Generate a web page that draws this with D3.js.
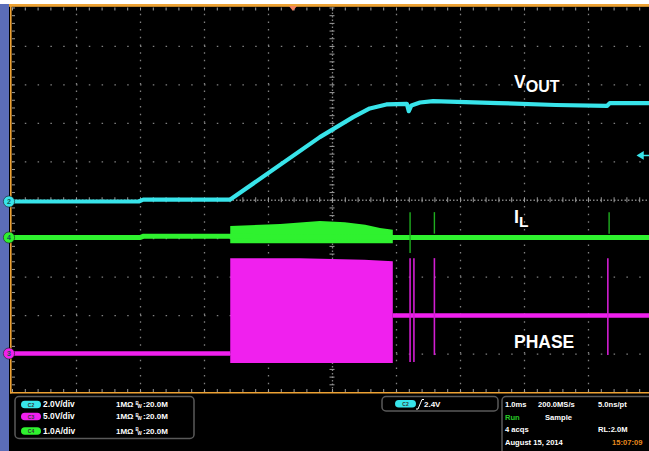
<!DOCTYPE html>
<html>
<head>
<meta charset="utf-8">
<script src="https://cdn.jsdelivr.net/npm/d3@7"></script>
<style>
body { margin: 0; background: #fff; overflow: hidden; }
text { font-family: "Liberation Sans", Arial, sans-serif; }
</style>
</head>
<body>
<div id="scope"></div>
<script>
// time in ms (1.0ms/div, 10 div across), values in volts / amps
var vout = [[0,0],[1.98,0],[2.05,0.1],[3.41,0.1],[4.81,3.35],[5.33,4.39],[5.59,4.84],[5.85,5.05],
            [6.17,5.08],[6.2,4.7],[6.24,5.0],[6.375,5.15],[6.58,5.22],[7.6,5.12],[8.5,5.02],
            [9.3,4.98],[9.34,5.12],[10,5.12]];
var ilBase = [[0,0],[2.0,0],[2.05,0.03],[3.41,0.03],[5.95,0.0],[10,0]];
// switching band: [t, top, bottom]
var ilBand = [[3.41,0.3,-0.15],[4.19,0.35,-0.15],[4.81,0.43,-0.15],[5.2,0.4,-0.15],
              [5.52,0.33,-0.15],[5.75,0.25,-0.15],[5.95,0.2,-0.15]];
var ilSpikes = [[6.22,0.66,-0.4],[6.6,0.66,0.1],[9.33,0.66,0.1]];
var phaseLow = [[0,0],[3.41,0]];
var phaseHigh = [[5.95,4.95],[10,4.95]];
var phaseBlock = [[3.41,12.4,-1.25],[4.5,12.4,-1.25],[5.5,12.2,-1.25],[5.95,12.0,-1.25]];
var phaseSpikes = [[6.22,12.4,-1.1],[6.28,12.4,-1.1],[6.6,12.4,-0.2],[9.31,12.4,-0.2]];

// channel settings: offset in divisions from the bottom, units per division
var channels = [
  {name:"C2", color:"#38e4ea", num:"2", offset:4.954, perDiv:2.0, scale:"2.0V/div"},
  {name:"C3", color:"#f020ee", num:"3", offset:1.001, perDiv:5.0, scale:"5.0V/div"},
  {name:"C4", color:"#2ff22f", num:"4", offset:4.018, perDiv:1.0, scale:"1.0A/div"}
];
var statusRight = [["1.0ms","200.0MS/s","5.0ns/pt"],["Run","Sample",""],["4 acqs","","RL:2.0M"],["August 15, 2014","","15:07:09"]];

var W = 649, H = 451;
var gLeft = 12, gRight = 652, gTop = 7.5, gBottom = 392;
var orange = "#eda234";

var svg = d3.select("#scope").append("svg").attr("width", W).attr("height", H);

svg.append("rect").attr("x", 0).attr("y", 4).attr("width", W).attr("height", H).attr("fill", "#000");
svg.append("rect").attr("x", 0).attr("y", 4).attr("width", 9).attr("height", H).attr("fill", "#5b6db8");

var x = d3.scaleLinear().domain([0, 10]).range([gLeft, gRight]);
var yDiv = d3.scaleLinear().domain([0, 10]).range([gBottom, gTop]);
channels.forEach(function(c){
  c.y = d3.scaleLinear().domain([-c.offset * c.perDiv, (10 - c.offset) * c.perDiv]).range([gBottom, gTop]);
});
var cy = channels[0].y, my = channels[1].y, gy = channels[2].y;

// grid: dots at minor divisions along every major line
var grid = svg.append("g");
var vGrid = grid.append("g").attr("transform", "translate(0," + gBottom + ")")
  .call(d3.axisBottom(x).tickValues(d3.range(1, 10)).tickSize(-(gBottom - gTop)).tickFormat(""));
vGrid.select(".domain").remove();
vGrid.selectAll("line").attr("stroke", "#808080").attr("stroke-width", 1.3)
  .attr("stroke-dasharray", d => d === 5 ? "1.5,2" : "1.5,6.19");
var hGrid = grid.append("g").attr("transform", "translate(" + gLeft + ",0)")
  .call(d3.axisLeft(yDiv).tickValues(d3.range(1, 10)).tickSize(-(gRight - gLeft)).tickFormat(""));
hGrid.select(".domain").remove();
hGrid.selectAll("line").attr("stroke", "#808080").attr("stroke-width", 1.3)
  .attr("stroke-dasharray", d => d === 5 ? "1.5,2" : "1.5,11.3");

// minor ticks on centre lines and edges
function minorTicks(axis, tr, size){
  var g = grid.append("g").attr("transform", tr)
    .call(axis.tickSize(size).tickFormat(""));
  g.select(".domain").remove();
  g.selectAll("line").attr("stroke", "#9a9a9a").attr("stroke-width", 1);
  return g;
}
var xMinor = d3.range(0, 10.001, 0.2), yMinor = d3.range(0, 10.001, 0.2);
minorTicks(d3.axisBottom(x).tickValues(xMinor), "translate(0," + (yDiv(5) - 2.5) + ")", 5);
minorTicks(d3.axisRight(yDiv).tickValues(yMinor), "translate(" + (x(5) - 2.5) + ",0)", 5);
minorTicks(d3.axisBottom(x).tickValues(xMinor), "translate(0," + gTop + ")", 3);
minorTicks(d3.axisRight(yDiv).tickValues(yMinor), "translate(" + gLeft + ",0)", 3);
minorTicks(d3.axisTop(x).tickValues(xMinor), "translate(0," + gBottom + ")", 3);

// frame
svg.append("rect").attr("x", 9).attr("y", 4).attr("width", W).attr("height", 2.8).attr("fill", orange);
svg.append("line").attr("x1", 10.8).attr("x2", 10.8).attr("y1", 4).attr("y2", 393.5)
  .attr("stroke", orange).attr("stroke-width", 1.6);
svg.append("line").attr("x1", 10).attr("x2", W).attr("y1", 392.8).attr("y2", 392.8)
  .attr("stroke", orange).attr("stroke-width", 1.6);
// trigger position marker
svg.append("path").attr("d", "M" + (x(4.39) - 4) + ",6 L" + (x(4.39) + 4) + ",6 L" + x(4.39) + ",11 Z")
  .attr("fill", "#f2825e");

// traces
var traces = svg.append("g");
function line(ys){ return d3.line().x(d => x(d[0])).y(d => ys(d[1])); }
function band(ys){ return d3.area().x(d => x(d[0])).y0(d => ys(d[2])).y1(d => ys(d[1])); }

// PHASE (C3)
traces.append("path").datum(phaseBlock).attr("d", band(my)).attr("fill", channels[1].color);
[phaseLow, phaseHigh].forEach(function(seg){
  traces.append("path").datum(seg).attr("d", line(my)).attr("fill", "none")
    .attr("stroke", channels[1].color).attr("stroke-width", 4.5);
});
traces.selectAll(".pspike").data(phaseSpikes).enter().append("line")
  .attr("x1", d => x(d[0])).attr("x2", d => x(d[0]))
  .attr("y1", d => my(d[1])).attr("y2", d => my(d[2]))
  .attr("stroke", "#d21ed2").attr("stroke-width", 1.6);

// IL (C4)
traces.append("path").datum(ilBand).attr("d", band(gy)).attr("fill", channels[2].color);
traces.append("path").datum(ilBase).attr("d", line(gy)).attr("fill", "none")
  .attr("stroke", channels[2].color).attr("stroke-width", 5);
traces.selectAll(".gspike").data(ilSpikes).enter().append("line")
  .attr("x1", d => x(d[0])).attr("x2", d => x(d[0]))
  .attr("y1", d => gy(d[1])).attr("y2", d => gy(d[2]))
  .attr("stroke", "#1fae1f").attr("stroke-width", 1.4);

// VOUT (C2)
traces.append("path").datum(vout).attr("d", line(cy)).attr("fill", "none")
  .attr("stroke", channels[0].color).attr("stroke-width", 4.2).attr("stroke-linejoin", "round");

// trigger level arrow at right edge
var tl = cy(2.4);
svg.append("path").attr("d", "M638," + tl + " l5,-3 l0,6 Z M642," + tl + " L649," + tl)
  .attr("fill", channels[0].color).attr("stroke", channels[0].color).attr("stroke-width", 1.5);

// channel ground markers
var markers = svg.append("g").selectAll("g").data(channels).enter().append("g")
  .attr("transform", d => "translate(9," + d.y(0) + ")");
markers.append("circle").attr("r", 5.6).attr("fill", d => d.color).attr("stroke", "#1a1a1a").attr("stroke-width", 0.6);
markers.append("text").attr("text-anchor", "middle").attr("dy", "0.35em")
  .attr("font-size", 7).attr("font-weight", "bold").attr("fill", "#155").text(d => d.num);

// labels
var lab = svg.append("g").attr("fill", "#fff").attr("font-weight", "bold");
var v = lab.append("text").attr("x", 514).attr("y", 88);
v.append("tspan").attr("font-size", 17.5).text("V");
v.append("tspan").attr("font-size", 16).attr("dy", 4).text("OUT");
var il = lab.append("text").attr("x", 514).attr("y", 223);
il.append("tspan").attr("font-size", 18).text("I");
il.append("tspan").attr("font-size", 15.5).attr("dy", 4).text("L");
lab.append("text").attr("x", 514).attr("y", 348).attr("font-size", 17.5).text("PHASE");

// status bar
var st = svg.append("g").attr("font-size", 7.6).attr("font-weight", "bold").attr("fill", "#fff");
st.append("rect").attr("x", 15).attr("y", 396.5).attr("width", 179).attr("height", 42).attr("rx", 4)
  .attr("fill", "none").attr("stroke", "#5a5a5a").attr("stroke-width", 1.5);
st.append("rect").attr("x", 382).attr("y", 396.5).attr("width", 116).attr("height", 14.5).attr("rx", 4)
  .attr("fill", "none").attr("stroke", "#5a5a5a").attr("stroke-width", 1.5);
st.append("rect").attr("x", 502).attr("y", 396.5).attr("width", 160).attr("height", 60).attr("rx", 4)
  .attr("fill", "none").attr("stroke", "#5a5a5a").attr("stroke-width", 1.5);

var rowsY = [404.5, 416.5, 431];
channels.forEach(function(c, i){
  var r = st.append("g").attr("transform", "translate(0," + rowsY[i] + ")");
  r.append("rect").attr("x", 21).attr("y", -3.8).attr("width", 20).attr("height", 7.6).attr("rx", 3.8).attr("fill", c.color);
  r.append("text").attr("x", 31).attr("y", 2.2).attr("text-anchor", "middle").attr("font-size", 5)
    .attr("fill", "#333").text(c.name);
  r.append("text").attr("x", 43).attr("y", 2.7).attr("font-size", 8.4).text(c.scale);
  r.append("text").attr("x", 116).attr("y", 2.7).attr("font-size", 8).text("1MΩ");
  r.append("text").attr("x", 135.5).attr("y", 0).attr("font-size", 4.5).text("B");
  r.append("text").attr("x", 137.5).attr("y", 3.5).attr("font-size", 4.5).text("W");
  r.append("text").attr("x", 143).attr("y", 2.7).attr("font-size", 8).text(":20.0M");
});

st.append("rect").attr("x", 395).attr("y", 400).attr("width", 21).attr("height", 7.6).attr("rx", 3.8).attr("fill", channels[0].color);
st.append("text").attr("x", 405.5).attr("y", 406).attr("text-anchor", "middle").attr("font-size", 5).attr("fill", "#333").text("C2");
st.append("path").attr("d", "M416,409 L418,409 L422,399.5 L424,399.5").attr("fill", "none")
  .attr("stroke", "#fff").attr("stroke-width", 1);
st.append("text").attr("x", 424).attr("y", 406.7).attr("font-size", 8).text("2.4V");

var colX = [505, 538, 598], rightY = [407, 419.5, 432, 444.5];
statusRight.forEach(function(row, i){
  row.forEach(function(t, j){
    if (!t) return;
    var xx = colX[j];
    if (i === 1 && j === 1) xx = 545;
    if (i === 3 && j === 2) xx = 612;
    st.append("text").attr("x", xx).attr("y", rightY[i])
      .attr("fill", i === 1 && j === 0 ? "#27c927" : (i === 3 && j === 2 ? "#e88a1e" : "#fff"))
      .text(t);
  });
});
</script>
</body>
</html>
